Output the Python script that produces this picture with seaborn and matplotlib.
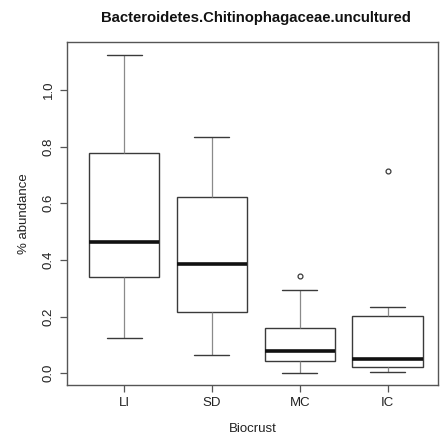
import matplotlib
matplotlib.use("Agg")
import matplotlib.pyplot as plt
import seaborn as sns
import pandas as pd

# Relative abundance (%) of the uncultured Chitinophagaceae per biocrust type
biocrust = ["LI", "SD", "MC", "IC"]
abund_LI = [0.123, 0.20, 0.340, 0.40, 0.464, 0.60, 0.778, 0.95, 1.124]
abund_SD = [0.064, 0.15, 0.217, 0.30, 0.385, 0.50, 0.621, 0.72, 0.835]
abund_MC = [0.001, 0.02, 0.042, 0.06, 0.078, 0.12, 0.158, 0.293, 0.343]
abund_IC = [0.005, 0.01, 0.020, 0.03, 0.049, 0.12, 0.201, 0.232, 0.714]
yticks = [0.0, 0.2, 0.4, 0.6, 0.8, 1.0]

df = pd.DataFrame({
    "Biocrust": sum([[b] * 9 for b in biocrust], []),
    "abundance": abund_LI + abund_SD + abund_MC + abund_IC,
})

sns.set_style("white")
plt.rcParams["font.family"] = ["Liberation Sans", "DejaVu Sans"]

fig = plt.figure(figsize=(4.41, 4.37), dpi=100)
ax = fig.add_axes([0.1519, 0.1190, 0.8413, 0.7849])

edge = "#3a3a3a"
sns.boxplot(
    data=df, x="Biocrust", y="abundance", order=biocrust, ax=ax,
    width=0.8, whis=1.5,
    boxprops=dict(facecolor="white", edgecolor=edge, linewidth=1.0),
    medianprops=dict(color="#111111", linewidth=2.6),
    whiskerprops=dict(color="#8a8a8a", linewidth=0.9),
    capprops=dict(color=edge, linewidth=1.0),
    flierprops=dict(marker="o", markersize=3.5, markerfacecolor="white",
                    markeredgecolor=edge, markeredgewidth=0.9),
)

ax.set_xlim(-0.65, 3.575)
ax.set_ylim(-0.042, 1.170)
ax.set_yticks(yticks)
ax.set_yticklabels([f"{v:.1f}" for v in yticks], rotation=90, va="center")
ax.tick_params(axis="both", direction="out", length=5, width=0.9,
               color="#555555", labelsize=9.5, labelcolor="#222222",
               left=True, bottom=True, pad=4)
for s in ax.spines.values():
    s.set_color("#555555")
    s.set_linewidth(1.0)

ax.set_xlabel("Biocrust", fontsize=9.5, color="#222222", labelpad=10)
ax.set_ylabel("% abundance", fontsize=9.5, color="#222222", labelpad=9)
fig.text(0.58, 0.958, "Bacteroidetes.Chitinophagaceae.uncultured",
         ha="center", va="center", fontsize=10.7, fontweight="bold",
         color="#111111")

fig.savefig("out.png", dpi=100)
